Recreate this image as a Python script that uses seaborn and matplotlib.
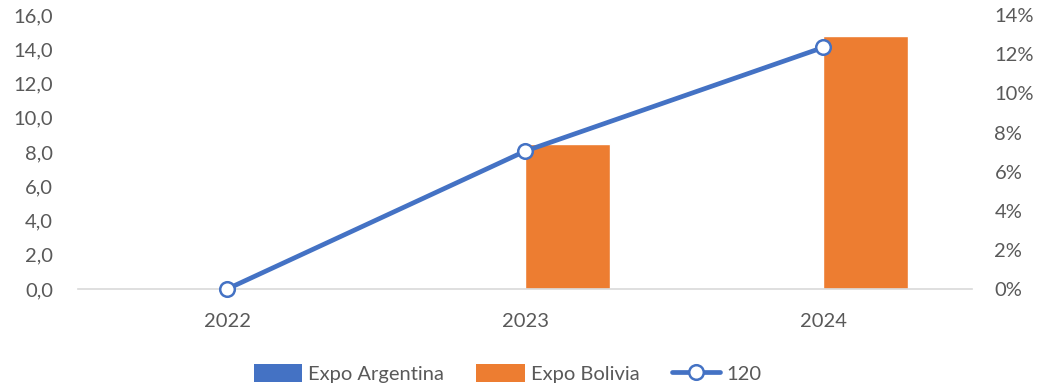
import matplotlib
matplotlib.use("Agg")
import matplotlib.pyplot as plt
import seaborn as sns
import pandas as pd
from matplotlib.patches import Patch
from matplotlib.lines import Line2D
from matplotlib.ticker import FuncFormatter, MultipleLocator

years = ["2022", "2023", "2024"]
expo_argentina = [0.0, 0.0, 0.0]
expo_bolivia = [0.0, 8.5, 14.8]
share_120 = [0.0, 7.05, 12.35]  # percent

BLUE = "#4472C4"
ORANGE = "#ED7D31"
TEXT = "#595959"
FS = 14.5

sns.set_theme(style="white")
plt.rcParams["font.family"] = ["Lato", "DejaVu Sans"]

df = pd.DataFrame({
    "year": years * 2,
    "value": expo_argentina + expo_bolivia,
    "series": ["Expo Argentina"] * len(years) + ["Expo Bolivia"] * len(years),
})

fig = plt.figure(figsize=(10.42, 3.89), dpi=100)
ax = fig.add_axes([0.075, 0.257, 0.858, 0.704])

sns.barplot(data=df, x="year", y="value", hue="series", order=years,
            palette=[BLUE, ORANGE], width=0.57, saturation=1, ax=ax, legend=False)

ax.set_xlim(-0.5, len(years) - 0.5)
ax.set_ylim(0, 16)
ax.yaxis.set_major_locator(MultipleLocator(2))
ax.yaxis.set_major_formatter(FuncFormatter(lambda v, p: f"{v:.1f}".replace(".", ",")))
ax.set_xlabel("")
ax.set_ylabel("")
for s in ["top", "right", "left"]:
    ax.spines[s].set_visible(False)
ax.spines["bottom"].set_color("#D9D9D9")
ax.spines["bottom"].set_linewidth(1.2)
ax.tick_params(axis="both", length=0, labelsize=FS, labelcolor=TEXT)
ax.tick_params(axis="x", pad=17)
ax.tick_params(axis="y", pad=18)

ax2 = ax.twinx()
sns.lineplot(x=list(range(len(years))), y=share_120, ax=ax2, color=BLUE,
             linewidth=3.4, marker="o", markersize=10.5, markerfacecolor="white",
             markeredgecolor=BLUE, markeredgewidth=1.8, clip_on=False, zorder=5)
ax2.set_ylim(0, 14)
ax2.yaxis.set_major_locator(MultipleLocator(2))
ax2.yaxis.set_major_formatter(FuncFormatter(lambda v, p: f"{v:.0f}%"))
for s in ["top", "right", "left", "bottom"]:
    ax2.spines[s].set_visible(False)
ax2.tick_params(axis="y", length=0, labelsize=FS, labelcolor=TEXT, pad=16)
ax2.set_ylabel("")

handles = [
    Patch(facecolor=BLUE, edgecolor="none"),
    Patch(facecolor=ORANGE, edgecolor="none"),
    Line2D([0], [0], color=BLUE, linewidth=3.4, marker="o", markersize=10.5,
           markerfacecolor="white", markeredgecolor=BLUE, markeredgewidth=1.8),
]
labels = ["Expo Argentina", "Expo Bolivia", "120"]
fig.legend(handles, labels, loc="center", bbox_to_anchor=(0.487, 0.04), ncol=3,
           frameon=False, fontsize=FS, labelcolor=TEXT, handlelength=2.4,
           handleheight=1.0, handletextpad=0.3, columnspacing=1.6)

fig.savefig("out.png", dpi=100)
